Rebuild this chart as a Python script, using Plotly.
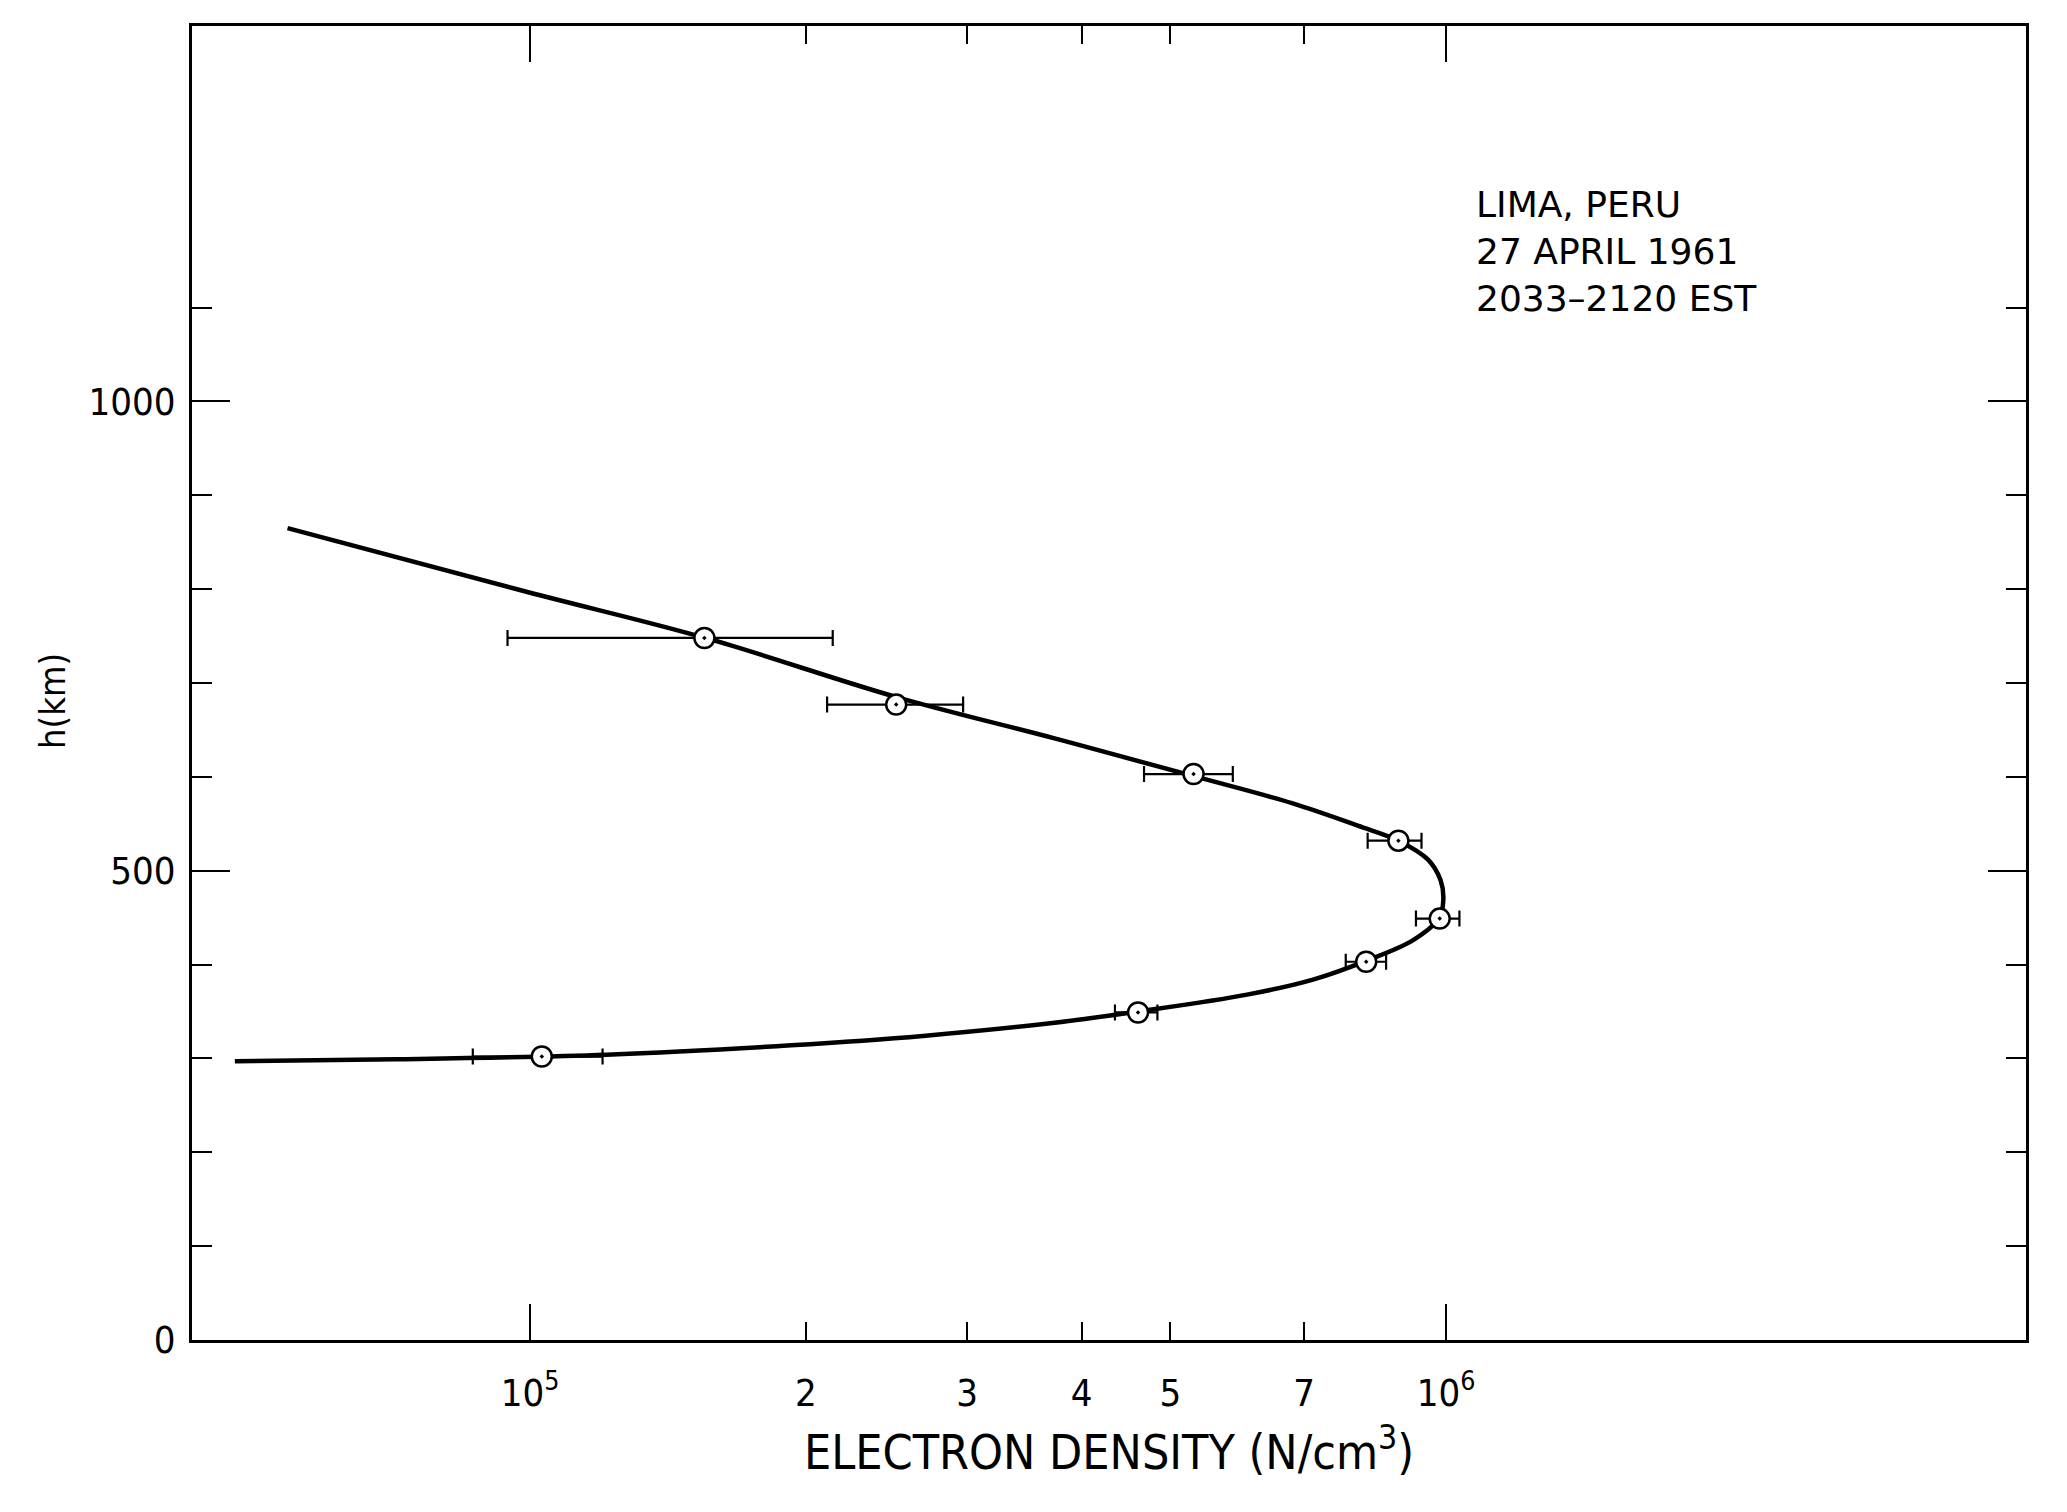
import plotly.graph_objects as go

# --- measured points: electron density (N/cm3) vs height (km) ---
density = [1.55e5, 2.51e5, 5.30e5, 8.87e5, 9.84e5, 8.18e5, 4.61e5, 1.03e5]
height = [748, 677, 603, 532, 449, 403, 349, 302]

# --- horizontal error limits ---
density_lo = [9.45e4, 2.11e5, 4.68e5, 8.21e5, 9.27e5, 7.77e5, 4.35e5, 8.66e4]
density_hi = [2.14e5, 2.97e5, 5.85e5, 9.40e5, 1.034e6, 8.60e5, 4.84e5, 1.20e5]

# --- fitted profile ---
curve_density = [54360, 99340, 155400, 251200, 373800, 529300, 678700, 800900,
                 886800, 955000, 986000, 993000, 983000, 920400, 818000, 715600,
                 606300, 461000, 373800, 268500, 192700, 121200, 71330, 47620]
curve_height = [865, 797, 748, 685, 641, 601, 572, 548,
                532, 512, 490, 469, 450, 426, 404, 384,
                368, 350, 338, 324, 314, 304, 299, 297]

# --- ticks ---
x_tickvals = [1e5, 2e5, 3e5, 4e5, 5e5, 7e5, 1e6]
x_ticktext = ['10<sup>5</sup>', '2', '3', '4', '5', '7', '10<sup>6</sup>']
x_decades = [1e5, 1e6]
y_tickvals = [0, 500, 1000]
y_minor = [100, 200, 300, 400, 600, 700, 800, 900, 1100]

narrow = "DejaVu Sans Condensed, Liberation Sans Narrow, Arial Narrow, sans-serif"
x_range = [4.631, 6.633]

fig = go.Figure()

# profile curve
fig.add_trace(go.Scatter(
    x=curve_density, y=curve_height, mode='lines',
    line=dict(color='black', width=4.5, shape='spline', smoothing=1.0),
    hoverinfo='skip'))

# data points with error bars
fig.add_trace(go.Scatter(
    x=density, y=height, mode='markers',
    marker=dict(symbol='circle-dot', size=20, color='white',
                line=dict(color='black', width=2.5)),
    error_x=dict(type='data', symmetric=False,
                 array=[h - d for h, d in zip(density_hi, density)],
                 arrayminus=[d - l for d, l in zip(density, density_lo)],
                 color='black', thickness=2.2, width=8)))

# invisible trace so the decade-tick axis gets drawn
fig.add_trace(go.Scatter(
    x=x_decades, y=[700, 700], xaxis='x2', mode='markers',
    marker=dict(opacity=0), hoverinfo='skip'))

# page body has an 8px margin, so the figure is a bit smaller than the window
fig.update_layout(
    width=2059, height=1504,
    margin=dict(l=184, r=41, t=18, b=172),
    paper_bgcolor='white', plot_bgcolor='white',
    showlegend=False,
    font=dict(family=narrow, color='black', size=38),
    xaxis=dict(
        type='log', range=x_range, automargin=False,
        tickvals=x_tickvals, ticktext=x_ticktext,
        ticks='inside', ticklen=18, tickwidth=2, tickcolor='black',
        showline=True, linewidth=3, linecolor='black', mirror='ticks',
        showgrid=False, zeroline=False, ticklabelstandoff=17,
        tickfont=dict(family=narrow, size=38),
        title=dict(text='ELECTRON DENSITY (N/cm<sup>3</sup>)',
                   font=dict(family=narrow, size=48), standoff=22)),
    xaxis2=dict(
        type='log', range=x_range, overlaying='x', anchor='y', side='bottom',
        automargin=False, tickvals=x_decades, showticklabels=False,
        ticks='inside', ticklen=36, tickwidth=2, tickcolor='black',
        mirror='ticks', showline=False, showgrid=False, zeroline=False),
    yaxis=dict(
        range=[0, 1400], tickvals=y_tickvals, automargin=False,
        ticks='inside', ticklen=38, tickwidth=2, tickcolor='black',
        minor=dict(tickvals=y_minor, ticks='inside', ticklen=20,
                   tickwidth=2, tickcolor='black'),
        showline=True, linewidth=3, linecolor='black', mirror='ticks',
        showgrid=False, zeroline=False, ticklabelstandoff=6,
        tickfont=dict(family=narrow, size=38)),
)

# y-axis title sits a little below the middle of the axis
fig.add_annotation(
    xref='paper', yref='paper', x=-0.076, y=0.486,
    xanchor='center', yanchor='middle', textangle=-90, showarrow=False,
    text='h(km)', font=dict(family=narrow, size=36, color='black'))

fig.add_annotation(
    xref='paper', yref='paper', x=0.699, y=0.881,
    xanchor='left', yanchor='top', align='left', showarrow=False,
    text='LIMA, PERU<br>27 APRIL 1961<br>2033–2120 EST',
    font=dict(family='DejaVu Sans', size=36, color='black'))

fig.write_html("out.html")
